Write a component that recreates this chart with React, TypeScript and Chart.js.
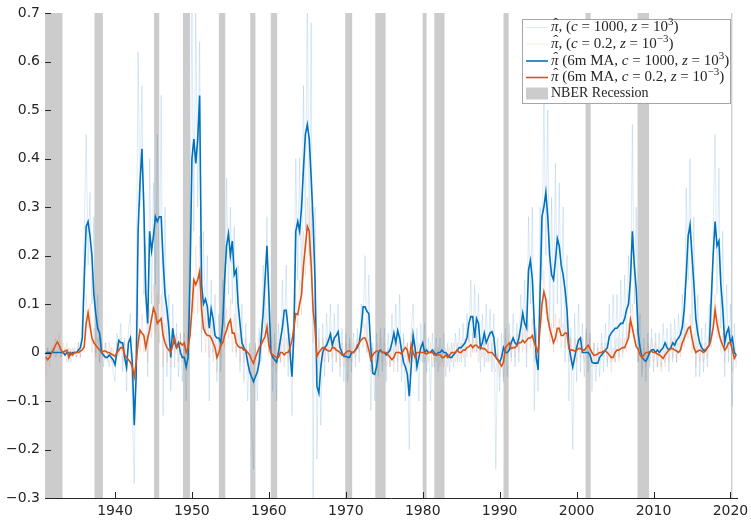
import { useEffect, useRef } from 'react';
import { Chart, registerables } from 'chart.js';

Chart.register(...registerables);

// ---------------- DATA ----------------
// quarterly observations starting in 1931 Q1
const FIRST_YEAR = 1931;
const PER_YEAR = 4;

// 6-month moving average, c = 1000, z = 10^3 (blue)
const blueMA = [
  0, 0, 0, 0, // 1931
  0, 0, 0, 0, // 1932
  0, 0, -0.005, 0, // 1933
  0, -0.005, 0, 0, // 1934
  0, 0.005, 0.01, 0.03, // 1935
  0.15, 0.26, 0.27, 0.24, // 1936
  0.2, 0.12, 0.08, 0.05, // 1937
  0.04, 0, -0.005, -0.01, // 1938
  -0.01, -0.005, -0.01, -0.015, // 1939
  -0.025, 0, 0.025, 0.02, // 1940
  0.02, -0.01, -0.03, 0.02, // 1941
  0.03, -0.02, -0.15, -0.05, // 1942
  0.25, 0.35, 0.42, 0.3, // 1943
  0.12, 0.06, 0.25, 0.21, // 1944
  0.24, 0.28, 0.27, 0.28, // 1945
  0.28, 0.19, 0.12, 0.09, // 1946
  0.05, -0.01, 0.05, 0.02, // 1947
  0.01, 0.02, 0, -0.01, // 1948
  -0.01, -0.03, -0.01, 0.15, // 1949
  0.4, 0.44, 0.39, 0.44, // 1950
  0.53, 0.14, 0.1, 0.11, // 1951
  0.095, 0.05, 0.09, 0.07, // 1952
  0.035, 0.03, 0.03, 0.02, // 1953
  0.06, 0.15, 0.22, 0.245, // 1954
  0.2, 0.23, 0.16, 0.17, // 1955
  0.1, 0.06, 0.02, 0.01, // 1956
  0.003, -0.02, -0.04, -0.05, // 1957
  -0.06, -0.05, -0.04, -0.02, // 1958
  0.03, 0.08, 0.15, 0.22, // 1959
  0.12, 0, -0.01, -0.015, // 1960
  -0.02, 0, 0.026, 0.05, // 1961
  0.087, 0.087, 0.05, 0, // 1962
  -0.05, 0.035, 0.25, 0.27, // 1963
  0.25, 0.3, 0.38, 0.45, // 1964
  0.47, 0.44, 0.36, 0.27, // 1965
  0.15, -0.07, -0.084, -0.03, // 1966
  0, 0.01, 0.015, 0.025, // 1967
  0.038, 0.015, 0.03, 0.035, // 1968
  0.043, 0.01, 0, -0.008, // 1969
  -0.008, -0.01, -0.01, 0, // 1970
  0, 0.005, 0.01, 0.02, // 1971
  0.05, 0.094, 0.094, 0.085, // 1972
  0.08, 0.01, -0.043, -0.045, // 1973
  -0.03, 0, 0.005, 0, // 1974
  0, -0.005, 0, 0.005, // 1975
  0.02, 0.04, 0.02, 0.045, // 1976
  0.03, 0.005, -0.02, -0.03, // 1977
  -0.045, -0.09, -0.03, 0.036, // 1978
  0.01, -0.03, -0.01, 0.01, // 1979
  0.02, 0, 0.005, 0, // 1980
  0, 0.005, 0, -0.005, // 1981
  0, 0, 0.005, 0, // 1982
  0, -0.005, -0.01, -0.01, // 1983
  -0.005, 0, 0.005, 0.01, // 1984
  0.01, 0.015, 0.02, 0.03, // 1985
  0.06, 0.074, 0.074, 0.03, // 1986
  0.07, 0.06, 0.01, 0.02, // 1987
  0.04, 0.02, 0.03, 0.04, // 1988
  0.043, 0.03, -0.01, -0.015, // 1989
  -0.02, -0.01, 0.01, 0, // 1990
  0, 0.005, 0.02, 0.03, // 1991
  0.02, 0.015, 0.03, 0.053, // 1992
  0.081, 0.06, 0.05, 0.17, // 1993
  0.19, 0.15, 0.06, -0.01, // 1994
  -0.036, 0.12, 0.28, 0.3, // 1995
  0.33, 0.28, 0.2, 0.16, // 1996
  0.15, 0.19, 0.235, 0.22, // 1997
  0.18, 0.16, 0.13, 0.088, // 1998
  0.014, -0.01, -0.03, -0.01, // 1999
  0.01, 0.025, 0.03, 0, // 2000
  0, 0, 0, -0.005, // 2001
  -0.02, -0.022, -0.022, -0.022, // 2002
  -0.01, -0.005, 0, 0.005, // 2003
  0.01, 0.033, 0.04, 0.045, // 2004
  0.05, 0.05, 0.055, 0.06, // 2005
  0.06, 0.07, 0.088, 0.1, // 2006
  0.15, 0.25, 0.18, 0.13, // 2007
  0.04, 0.01, -0.01, -0.015, // 2008
  -0.018, -0.01, 0, 0.005, // 2009
  0.006, 0, 0.005, 0, // 2010
  0.005, 0.01, 0.02, 0.01, // 2011
  0.005, 0.01, 0.02, 0.015, // 2012
  0.025, 0.03, 0.037, 0.053, // 2013
  0.09, 0.16, 0.24, 0.263, // 2014
  0.2, 0.14, 0.07, 0.04, // 2015
  0.02, 0.01, 0.005, 0.005, // 2016
  0.01, 0.015, 0.108, 0.2, // 2017
  0.27, 0.22, 0.23, 0.14, // 2018
  0.09, 0.02, 0.04, 0.05, // 2019
  0.02, 0.03, 0, -0.005, // 2020
];

// 6-month moving average, c = 0.2, z = 10^-3 (orange)
const orangeMA = [
  -0.01, -0.015, -0.01, 0, // 1931
  0.005, 0.015, 0.022, 0.015, // 1932
  0.005, 0, 0.003, 0.005, // 1933
  -0.01, 0, -0.005, 0, // 1934
  0, 0, 0.003, 0.006, // 1935
  0.012, 0.06, 0.082, 0.055, // 1936
  0.03, 0.02, 0.015, 0.01, // 1937
  0.005, 0, 0.003, 0.003, // 1938
  0, 0, -0.003, -0.005, // 1939
  -0.008, 0, 0.005, 0.01, // 1940
  0.01, -0.005, -0.01, -0.015, // 1941
  -0.02, -0.03, -0.05, -0.02, // 1942
  0.02, 0.046, 0.04, 0.035, // 1943
  0.01, 0.03, 0.046, 0.07, // 1944
  0.091, 0.08, 0.06, 0.065, // 1945
  0.07, 0.035, 0.02, 0.01, // 1946
  0.005, 0, 0.015, 0.03, // 1947
  0.01, 0.015, 0.02, 0.015, // 1948
  0.02, 0, 0.01, 0.035, // 1949
  0.088, 0.15, 0.14, 0.15, // 1950
  0.167, 0.09, 0.05, 0.04, // 1951
  0.035, 0.035, 0.03, 0.02, // 1952
  0.01, -0.01, 0, 0.015, // 1953
  0.02, 0.035, 0.046, 0.06, // 1954
  0.067, 0.04, 0.04, 0.02, // 1955
  0.013, 0.01, 0.01, 0.005, // 1956
  0.005, 0, -0.005, -0.015, // 1957
  -0.022, -0.01, 0, 0.01, // 1958
  0.017, 0.025, 0.033, 0.053, // 1959
  0.015, 0, -0.005, -0.008, // 1960
  -0.01, -0.01, 0, 0, // 1961
  -0.005, 0, 0, 0.01, // 1962
  0.025, 0.05, 0.08, 0.078, // 1963
  0.1, 0.12, 0.18, 0.22, // 1964
  0.26, 0.25, 0.18, 0.088, // 1965
  0.05, -0.008, 0, 0.005, // 1966
  0.01, 0.01, 0.005, 0.003, // 1967
  0.003, 0.01, 0.01, 0.005, // 1968
  0.003, 0, -0.005, -0.005, // 1969
  0, 0.003, 0.003, 0, // 1970
  0, 0.005, 0.015, 0.02, // 1971
  0.026, 0.03, 0.03, 0.02, // 1972
  0.005, -0.015, -0.005, 0, // 1973
  0.003, 0.003, 0.003, 0, // 1974
  0, 0, -0.005, -0.01, // 1975
  -0.015, -0.01, 0, 0, // 1976
  0, -0.003, 0.005, 0.01, // 1977
  0.005, -0.015, 0.016, 0, // 1978
  -0.01, 0, 0, 0, // 1979
  0, 0, -0.003, 0, // 1980
  0, 0, -0.005, -0.005, // 1981
  -0.005, -0.005, -0.01, -0.01, // 1982
  -0.005, -0.01, -0.005, 0, // 1983
  0, 0, 0.005, 0, // 1984
  0, 0.005, 0.005, 0.01, // 1985
  0.012, 0.016, 0.01, 0.015, // 1986
  0.015, 0.01, 0.012, 0.008, // 1987
  0.008, 0.005, 0, 0, // 1988
  0, -0.005, -0.01, -0.015, // 1989
  -0.022, -0.028, -0.02, 0.01, // 1990
  0.015, 0.02, 0.008, 0.01, // 1991
  0.01, 0.015, 0.02, 0.02, // 1992
  0.025, 0.02, 0.025, 0.03, // 1993
  0.03, 0.035, 0.02, 0.01, // 1994
  0, 0.05, 0.1, 0.125, // 1995
  0.11, 0.07, 0.05, 0.035, // 1996
  0.02, 0.03, 0.05, 0.05, // 1997
  0.035, 0.035, 0.04, 0.04, // 1998
  0.008, 0.005, 0.005, 0.003, // 1999
  0.005, 0.008, 0.008, 0.005, // 2000
  0.005, 0.01, 0.015, 0.008, // 2001
  0, -0.006, -0.005, -0.003, // 2002
  0, 0, 0.003, 0.003, // 2003
  0, -0.005, -0.01, -0.01, // 2004
  0, 0.005, 0.005, 0.008, // 2005
  0.01, 0.01, 0.02, 0.03, // 2006
  0.068, 0.05, 0.03, 0.012, // 2007
  0.007, -0.005, -0.01, -0.005, // 2008
  0, 0, 0.002, 0.002, // 2009
  0, 0, -0.003, -0.005, // 2010
  -0.008, -0.012, -0.005, 0, // 2011
  0.005, 0.008, 0.008, 0.005, // 2012
  0.003, 0, 0.005, 0.02, // 2013
  0.03, 0.04, 0.05, 0.053, // 2014
  0.03, 0.01, 0, 0.003, // 2015
  0.005, 0.003, 0, 0.003, // 2016
  0.01, 0.015, 0.03, 0.05, // 2017
  0.088, 0.06, 0.04, 0.025, // 2018
  0.015, 0.005, 0.01, 0.02, // 2019
  0.02, 0.005, -0.012, -0.005, // 2020
];

// raw estimate, c = 1000, z = 10^3 (faint blue)
const blueRaw = [
  -0.02, 0.01, -0.01, 0, // 1931
  0.01, -0.01, 0, 0.01, // 1932
  -0.01, 0, 0.01, -0.02, // 1933
  0.01, -0.02, 0.01, 0, // 1934
  -0.01, 0.02, -0.01, 0.08, // 1935
  0.25, 0.45, 0.18, 0.33, // 1936
  0.1, 0.28, 0, 0.12, // 1937
  -0.02, 0.03, -0.03, 0.02, // 1938
  0, -0.03, 0.01, -0.04, // 1939
  -0.06, 0.04, 0, 0.06, // 1940
  -0.04, 0.03, -0.08, 0.05, // 1941
  0.08, -0.12, -0.27, 0.1, // 1942
  0.62, 0.3, 0.55, 0.12, // 1943
  0.22, -0.05, 0.4, 0.1, // 1944
  0.35, 0.14, 0.45, 0.1, // 1945
  0.53, -0.13, 0.3, -0.05, // 1946
  0.12, -0.08, 0.1, -0.03, // 1947
  0.06, -0.05, 0.04, -0.06, // 1948
  0.02, -0.1, 0.05, 0.3, // 1949
  0.7, 0.25, 0.72, 0.3, // 1950
  0.64, 0, 0.25, 0.04, // 1951
  0.2, -0.1, 0.15, 0, // 1952
  0.12, -0.06, 0.08, -0.04, // 1953
  0.15, 0.05, 0.36, 0.12, // 1954
  0.3, 0.1, 0.26, 0, // 1955
  0.18, -0.04, 0.1, -0.06, // 1956
  0.06, -0.1, 0.02, -0.15, // 1957
  -0.24, 0.02, -0.1, 0.05, // 1958
  -0.02, 0.18, 0.05, 0.28, // 1959
  0, 0.06, -0.08, 0.04, // 1960
  -0.1, 0.06, -0.02, 0.15, // 1961
  0, 0.18, -0.05, 0.04, // 1962
  -0.13, 0.1, 0.4, 0.15, // 1963
  0.4, 0.12, 0.55, 0.25, // 1964
  0.75, 0.2, 0.68, -0.3, // 1965
  0.3, -0.22, 0.05, -0.15, // 1966
  0.06, -0.05, 0.08, -0.02, // 1967
  0.1, -0.04, 0.08, -0.02, // 1968
  0.1, -0.05, 0.05, -0.06, // 1969
  0.04, -0.06, 0.03, -0.04, // 1970
  0.04, -0.03, 0.05, -0.02, // 1971
  0.1, 0.05, 0.2, 0, // 1972
  0.16, -0.12, 0.02, -0.1, // 1973
  0.04, -0.05, 0.05, -0.04, // 1974
  0.05, -0.06, 0.04, -0.03, // 1975
  0.08, -0.02, 0.1, -0.04, // 1976
  0.12, -0.06, 0.04, -0.1, // 1977
  0.02, -0.2, 0.05, 0.1, // 1978
  -0.04, 0.05, -0.1, 0.06, // 1979
  -0.02, 0.06, -0.04, 0.03, // 1980
  -0.1, 0.04, -0.03, 0.03, // 1981
  -0.04, 0.03, -0.02, 0.04, // 1982
  -0.05, 0.02, -0.04, 0.02, // 1983
  -0.03, 0.04, -0.02, 0.05, // 1984
  -0.02, 0.06, -0.03, 0.08, // 1985
  0.02, 0.15, 0, 0.14, // 1986
  0, 0.12, -0.04, 0.08, // 1987
  -0.03, 0.1, -0.02, 0.09, // 1988
  -0.04, 0.08, -0.24, 0.03, // 1989
  -0.08, 0.04, -0.06, 0.05, // 1990
  -0.05, 0.06, -0.02, 0.08, // 1991
  -0.03, 0.06, -0.02, 0.12, // 1992
  0.02, 0.15, -0.03, 0.28, // 1993
  0.1, 0.3, -0.12, 0.05, // 1994
  -0.08, 0.3, 0.15, 0.55, // 1995
  0.2, 0.5, 0.05, 0.32, // 1996
  0.05, 0.39, 0.1, 0.35, // 1997
  0.05, 0.3, -0.02, 0.2, // 1998
  -0.1, 0.05, -0.2, 0.08, // 1999
  -0.06, 0.1, -0.04, 0.06, // 2000
  -0.05, 0.05, -0.04, 0.04, // 2001
  -0.08, 0.02, -0.06, 0.01, // 2002
  -0.05, 0.04, -0.04, 0.06, // 2003
  -0.03, 0.1, -0.02, 0.12, // 2004
  -0.02, 0.12, -0.01, 0.15, // 2005
  0, 0.16, 0.02, 0.2, // 2006
  0.08, 0.47, 0.1, 0.3, // 2007
  -0.02, 0.08, -0.05, 0.03, // 2008
  -0.06, 0.04, -0.03, 0.05, // 2009
  -0.04, 0.04, -0.03, 0.04, // 2010
  -0.03, 0.06, -0.02, 0.05, // 2011
  -0.04, 0.06, -0.02, 0.07, // 2012
  -0.02, 0.08, 0, 0.12, // 2013
  0.02, 0.34, 0.15, 0.4, // 2014
  0.05, 0.28, -0.05, 0.12, // 2015
  -0.05, 0.05, -0.04, 0.06, // 2016
  -0.03, 0.1, 0.02, 0.25, // 2017
  0.45, 0.12, 0.38, 0.05, // 2018
  0.25, -0.05, 0.14, -0.02, // 2019
  0.1, -0.11, 0.06, -0.03, // 2020
];

// raw estimate, c = 0.2, z = 10^-3 (faint orange)
const orangeRaw = [
  -0.05, 0.01, -0.03, 0.01, // 1931
  0, 0.03, 0.01, 0.04, // 1932
  -0.01, 0.02, -0.01, 0.02, // 1933
  -0.02, 0.01, -0.01, 0.01, // 1934
  -0.01, 0.02, -0.01, 0.03, // 1935
  0, 0.12, 0.05, 0.1, // 1936
  0, 0.05, -0.01, 0.03, // 1937
  -0.02, 0.02, -0.01, 0.02, // 1938
  -0.02, 0.02, -0.02, 0.01, // 1939
  -0.03, 0.02, -0.01, 0.03, // 1940
  -0.02, 0.02, -0.04, 0.01, // 1941
  0, -0.06, -0.1, 0.02, // 1942
  0.1, 0, 0.08, 0, // 1943
  0.04, -0.02, 0.09, 0.03, // 1944
  0.14, 0.04, 0.12, 0.02, // 1945
  0.12, -0.03, 0.06, -0.02, // 1946
  0.03, -0.03, 0.05, 0, // 1947
  0.04, -0.02, 0.04, -0.02, // 1948
  0.04, -0.03, 0.04, 0.05, // 1949
  0.15, 0.08, 0.22, 0.08, // 1950
  0.24, 0.04, 0.1, 0, // 1951
  0.07, -0.01, 0.06, -0.02, // 1952
  0.04, -0.04, 0.03, -0.01, // 1953
  0.05, 0.01, 0.09, 0.03, // 1954
  0.11, 0, 0.08, -0.01, // 1955
  0.04, -0.02, 0.03, -0.02, // 1956
  0.03, -0.03, 0.01, -0.05, // 1957
  -0.07, 0.01, -0.03, 0.03, // 1958
  0, 0.05, 0.01, 0.09, // 1959
  -0.01, 0.03, -0.03, 0.02, // 1960
  -0.04, 0.02, -0.02, 0.03, // 1961
  -0.03, 0.03, -0.02, 0.03, // 1962
  -0.01, 0.08, 0.12, 0.05, // 1963
  0.15, 0.08, 0.25, 0.16, // 1964
  0.32, 0.18, 0.3, 0.02, // 1965
  0.12, -0.05, 0.03, -0.03, // 1966
  0.03, -0.02, 0.03, -0.02, // 1967
  0.03, -0.01, 0.03, -0.02, // 1968
  0.03, -0.03, 0.02, -0.03, // 1969
  0.02, -0.02, 0.02, -0.02, // 1970
  0.02, -0.01, 0.03, 0, // 1971
  0.05, 0.01, 0.06, 0, // 1972
  0.03, -0.04, 0.01, -0.02, // 1973
  0.02, -0.02, 0.03, -0.02, // 1974
  0.02, -0.03, 0.01, -0.03, // 1975
  0.01, -0.04, 0.02, -0.02, // 1976
  0.03, -0.03, 0.03, -0.01, // 1977
  0.02, -0.05, 0.04, -0.02, // 1978
  0.01, -0.02, 0.02, -0.02, // 1979
  0.02, -0.02, 0.01, -0.02, // 1980
  0.02, -0.03, 0.01, -0.02, // 1981
  0.01, -0.03, 0, -0.03, // 1982
  0.01, -0.03, 0.01, -0.02, // 1983
  0.02, -0.02, 0.02, -0.02, // 1984
  0.02, -0.01, 0.03, -0.01, // 1985
  0.04, -0.01, 0.04, 0, // 1986
  0.04, -0.02, 0.03, -0.01, // 1987
  0.03, -0.02, 0.02, -0.02, // 1988
  0.02, -0.03, -0.04, 0, // 1989
  -0.05, 0, -0.05, 0.03, // 1990
  -0.01, 0.04, -0.01, 0.03, // 1991
  -0.01, 0.04, 0, 0.04, // 1992
  0, 0.05, 0, 0.06, // 1993
  0.01, 0.07, -0.02, 0.04, // 1994
  -0.03, 0.09, 0.06, 0.17, // 1995
  0.08, 0.11, 0.02, 0.06, // 1996
  0, 0.08, 0.02, 0.07, // 1997
  0.01, 0.06, 0.01, 0.07, // 1998
  -0.02, 0.03, -0.02, 0.03, // 1999
  -0.02, 0.03, -0.01, 0.03, // 2000
  -0.02, 0.04, -0.01, 0.03, // 2001
  -0.03, 0.02, -0.03, 0.02, // 2002
  -0.02, 0.02, -0.01, 0.02, // 2003
  -0.02, 0.01, -0.04, 0.01, // 2004
  -0.02, 0.03, -0.02, 0.03, // 2005
  -0.01, 0.03, 0, 0.06, // 2006
  0.04, 0.1, 0.02, 0.05, // 2007
  -0.02, 0.02, -0.04, 0.01, // 2008
  -0.03, 0.02, -0.02, 0.03, // 2009
  -0.02, 0.02, -0.03, 0.01, // 2010
  -0.04, 0.01, -0.03, 0.02, // 2011
  -0.02, 0.03, -0.01, 0.03, // 2012
  -0.02, 0.02, -0.01, 0.04, // 2013
  0.01, 0.06, 0.03, 0.08, // 2014
  0, 0.04, -0.03, 0.02, // 2015
  -0.02, 0.02, -0.02, 0.02, // 2016
  -0.01, 0.04, 0.01, 0.07, // 2017
  0.12, 0.03, 0.07, 0, // 2018
  0.04, -0.02, 0.03, 0, // 2019
  0.05, -0.04, 0, -0.02, // 2020
];

// NBER recessions (decimal years)
const recessionStart = [1929.58, 1937.33, 1945.08, 1948.83, 1953.5, 1957.58, 1960.25, 1969.92, 1973.83, 1980.0, 1981.5, 1990.5, 2001.17, 2007.92, 2020.08];
const recessionEnd = [1933.17, 1938.42, 1945.75, 1949.75, 1954.33, 1958.25, 1961.08, 1970.83, 1975.17, 1980.5, 1982.83, 1991.17, 2001.83, 2009.42, 2020.25];

const xTickValues = [1940, 1950, 1960, 1970, 1980, 1990, 2000, 2010, 2020];
const yTickValues = [-0.3, -0.2, -0.1, 0, 0.1, 0.2, 0.3, 0.4, 0.5, 0.6, 0.7];

type Run = { t: string; it?: boolean; sup?: boolean; hat?: boolean };
const legendLabels: Run[][] = [
  [{ t: 'π', it: true, hat: true }, { t: ', (' }, { t: 'c', it: true }, { t: ' = 1000, ' }, { t: 'z', it: true }, { t: ' = 10' }, { t: '3', sup: true }, { t: ')' }],
  [{ t: 'π', it: true, hat: true }, { t: ', (' }, { t: 'c', it: true }, { t: ' = 0.2, ' }, { t: 'z', it: true }, { t: ' = 10' }, { t: '\u22123', sup: true }, { t: ')' }],
  [{ t: 'π', it: true, hat: true }, { t: ' (6m MA, ' }, { t: 'c', it: true }, { t: ' = 1000, ' }, { t: 'z', it: true }, { t: ' = 10' }, { t: '3', sup: true }, { t: ')' }],
  [{ t: 'π', it: true, hat: true }, { t: ' (6m MA, ' }, { t: 'c', it: true }, { t: ' = 0.2, ' }, { t: 'z', it: true }, { t: ' = 10' }, { t: '\u22123', sup: true }, { t: ')' }],
  [{ t: 'NBER Recession' }],
];

// ---------------- STYLE ----------------
const BLUE = '#0072BD';
const ORANGE = '#D95319';
const BLUE_FAINT = 'rgba(0,114,189,0.14)';
const ORANGE_FAINT = 'rgba(217,83,25,0.12)';
const RECESSION_GRAY = '#cccccc';
const AXIS_COLOR = '#262626';
const SERIF = '"Liberation Serif", "Times New Roman", serif';

const dates = blueMA.map((_, i) => FIRST_YEAR + i / PER_YEAR);
const toPoints = (vals: number[]) => vals.map((v, i) => ({ x: dates[i], y: v }));

const recessionPlugin = {
  id: 'recessions',
  beforeDatasetsDraw(chart: any) {
    const { ctx, chartArea, scales } = chart;
    const x = scales.x;
    ctx.save();
    ctx.beginPath();
    ctx.rect(chartArea.left, chartArea.top, chartArea.right - chartArea.left, chartArea.bottom - chartArea.top);
    ctx.clip();
    ctx.fillStyle = RECESSION_GRAY;
    recessionStart.forEach((s, i) => {
      const x0 = x.getPixelForValue(s);
      const x1 = x.getPixelForValue(recessionEnd[i]);
      ctx.fillRect(x0, chartArea.top, x1 - x0, chartArea.bottom - chartArea.top);
    });
    ctx.restore();
  },
};

const innerTicksPlugin = {
  id: 'innerTicks',
  afterDraw(chart: any) {
    const { ctx, chartArea, scales } = chart;
    ctx.save();
    ctx.strokeStyle = AXIS_COLOR;
    ctx.lineWidth = 1;
    ctx.beginPath();
    scales.y.ticks.forEach((t: any) => {
      const py = Math.round(scales.y.getPixelForValue(t.value)) + 0.5;
      ctx.moveTo(chartArea.left, py);
      ctx.lineTo(chartArea.left + 6, py);
    });
    scales.x.ticks.forEach((t: any) => {
      const px = Math.round(scales.x.getPixelForValue(t.value)) + 0.5;
      ctx.moveTo(px, chartArea.bottom);
      ctx.lineTo(px, chartArea.bottom - 6);
    });
    ctx.stroke();
    ctx.restore();
  },
};

function drawRuns(ctx: CanvasRenderingContext2D, runs: Run[], x: number, y: number, size: number) {
  let cx = x;
  for (const r of runs) {
    const s = r.sup ? Math.round(size * 0.72) : size;
    ctx.font = `${r.it ? 'italic ' : ''}${s}px ${SERIF}`;
    ctx.textAlign = 'left';
    ctx.fillText(r.t, cx, r.sup ? y - 5 : y);
    const w = ctx.measureText(r.t).width;
    if (r.hat) {
      ctx.font = `${size}px ${SERIF}`;
      ctx.textAlign = 'center';
      ctx.fillText('\u02C6', cx + w / 2 + 1, y - 3);
      ctx.textAlign = 'left';
    }
    cx += w;
  }
}

const legendPlugin = {
  id: 'mLegend',
  afterDraw(chart: any) {
    const { ctx } = chart;
    const bx = 522.5, by = 19.5, bw = 208, bh = 84;
    const rowY = [27.5, 44, 61, 77.5, 93.5];
    const colors = [BLUE_FAINT, ORANGE_FAINT, BLUE, ORANGE];
    ctx.save();
    ctx.fillStyle = '#ffffff';
    ctx.fillRect(bx, by, bw, bh);
    ctx.strokeStyle = '#a6a6a6';
    ctx.lineWidth = 1;
    ctx.strokeRect(bx, by, bw, bh);
    legendLabels.forEach((runs, i) => {
      const y = rowY[i];
      if (i < 4) {
        ctx.strokeStyle = colors[i];
        ctx.lineWidth = i < 2 ? 1 : 1.6;
        ctx.beginPath();
        ctx.moveTo(526, y);
        ctx.lineTo(548, y);
        ctx.stroke();
      } else {
        ctx.fillStyle = RECESSION_GRAY;
        ctx.fillRect(526, y - 6, 22, 12);
      }
      ctx.fillStyle = AXIS_COLOR;
      ctx.textBaseline = 'middle';
      drawRuns(ctx, runs, 551, y, i < 4 ? 15 : 14);
    });
    ctx.restore();
  },
};

const fmtY = (v: number) => {
  if (Math.abs(v) < 1e-9) return '0';
  return (v < 0 ? '\u2212' : '') + Math.abs(v).toFixed(1);
};

export default function App() {
  const ref = useRef<HTMLCanvasElement>(null);
  useEffect(() => {
    if (!ref.current) return;
    const chart = new Chart(ref.current, {
      type: 'line',
      data: {
        datasets: [
          { label: 'MA orange', data: toPoints(orangeMA), borderColor: ORANGE, borderWidth: 1.6, pointRadius: 0, tension: 0, order: 0 },
          { label: 'MA blue', data: toPoints(blueMA), borderColor: BLUE, borderWidth: 1.6, pointRadius: 0, tension: 0, order: 1 },
          { label: 'raw orange', data: toPoints(orangeRaw), borderColor: ORANGE_FAINT, borderWidth: 1, pointRadius: 0, tension: 0, order: 2 },
          { label: 'raw blue', data: toPoints(blueRaw), borderColor: BLUE_FAINT, borderWidth: 1, pointRadius: 0, tension: 0, order: 3 },
        ],
      },
      options: {
        animation: false,
        responsive: false,
        events: [],
        layout: { padding: { top: 13, right: 14, left: 0, bottom: 0 } },
        plugins: { legend: { display: false }, tooltip: { enabled: false } },
        scales: {
          x: {
            type: 'linear',
            min: 1930.9,
            max: 2020.85,
            grid: { display: false, drawTicks: false },
            border: { display: true, color: AXIS_COLOR, width: 1 },
            ticks: {
              color: AXIS_COLOR,
              font: { family: '"DejaVu Sans", sans-serif', size: 14 },
              padding: 5,
              maxRotation: 0,
              autoSkip: false,
              callback: (v: any) => String(v),
            },
            afterBuildTicks: (s: any) => { s.ticks = xTickValues.map((v) => ({ value: v })); },
            afterFit: (s: any) => { s.height = 23; s.paddingLeft = 0; s.paddingRight = 0; },
          },
          y: {
            type: 'linear',
            min: -0.3,
            max: 0.7,
            grid: { display: false, drawTicks: false },
            border: { display: true, color: AXIS_COLOR, width: 1 },
            ticks: {
              color: AXIS_COLOR,
              font: { family: '"DejaVu Sans", sans-serif', size: 14 },
              padding: 5,
              autoSkip: false,
              callback: (v: any) => fmtY(Number(v)),
            },
            afterBuildTicks: (s: any) => { s.ticks = yTickValues.map((v) => ({ value: v })); },
            afterFit: (s: any) => { s.width = 45; s.paddingTop = 0; s.paddingBottom = 0; },
          },
        },
      },
      plugins: [recessionPlugin, innerTicksPlugin, legendPlugin],
    } as any);
    return () => chart.destroy();
  }, []);
  return (
    <div style={{ position: 'absolute', left: 0, top: 0, width: 751, height: 521, background: '#ffffff' }}>
      <canvas ref={ref} width={751} height={521} style={{ display: 'block', width: 751, height: 521 }} />
    </div>
  );
}
